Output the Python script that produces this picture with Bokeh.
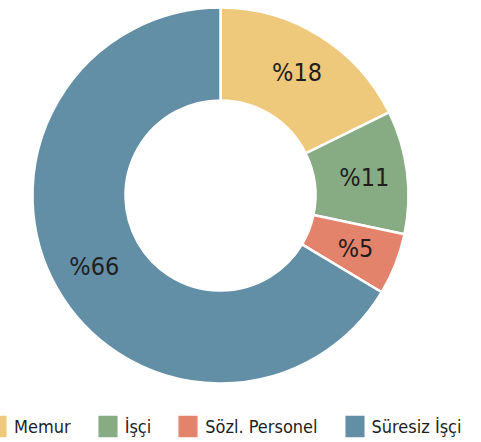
import numpy as np
from bokeh.plotting import figure
from bokeh.models import ColumnDataSource, Range1d, Legend, LegendItem
from bokeh.core.properties import value
from bokeh.embed import file_html
from bokeh.resources import INLINE

categories = ["Memur", "İşçi", "Sözl. Personel", "Süresiz İşçi"]
shares = [17.7, 10.6, 5.3, 66.4]
labels = ["%18", "%11", "%5", "%66"]
colors = ["#EFC97B", "#87AB83", "#E4836B", "#628EA6"]

FONT = "DejaVu Sans Condensed"

W, H = 481, 442
cx, cy = 220, H - 195
r_out, r_in = 188, 95
r_lab = 145

frac = np.array(shares) / sum(shares)
cum_end = np.cumsum(frac)
cum_start = cum_end - frac
start_angle = np.pi / 2 - 2 * np.pi * cum_end
end_angle = np.pi / 2 - 2 * np.pi * cum_start
mid = np.pi / 2 - 2 * np.pi * (cum_start + frac / 2)

src = ColumnDataSource(dict(
    cat=categories, start=start_angle, end=end_angle, color=colors,
    lx=cx + r_lab * np.cos(mid), ly=cy + r_lab * np.sin(mid), lab=labels,
))

p = figure(width=W, height=H, output_backend="svg", toolbar_location=None,
           x_range=Range1d(0, W), y_range=Range1d(0, H), min_border=0)
p.axis.visible = False
p.grid.visible = False
p.outline_line_color = None
p.background_fill_color = "white"
p.border_fill_color = "white"

wr = p.annular_wedge(x=cx, y=cy, inner_radius=r_in, outer_radius=r_out,
                     start_angle="start", end_angle="end", direction="anticlock",
                     fill_color="color", line_color="white", line_width=2.5, source=src)

p.text(x="lx", y="ly", text="lab", source=src, text_align="center", text_baseline="middle",
       text_font=value(FONT), text_font_size="25px", text_color="#1e1e1e")

items = [LegendItem(label=c, renderers=[wr], index=i) for i, c in enumerate(categories)]
legend = Legend(items=items, orientation="horizontal", location=(-17, 1),
                glyph_width=27, glyph_height=30, label_standoff=4, spacing=23,
                padding=0, margin=0, border_line_color=None, background_fill_alpha=0,
                label_text_font=FONT, label_text_font_size="18px", label_text_color="#1e1e1e")
p.add_layout(legend)

open("out.html", "w").write(file_html(p, INLINE))
